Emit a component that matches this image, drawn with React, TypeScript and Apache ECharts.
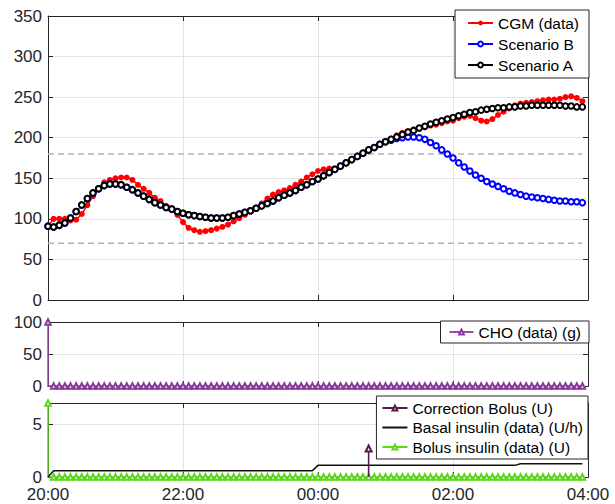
import React, { useEffect, useRef } from "react";
import * as echarts from "echarts";

// ---------- data ----------
const xTickLabels = ["20:00", "22:00", "00:00", "02:00", "04:00"];
const startClock = "20:00";
const stepMinutes = 5;

const cgm = [
  91, 100, 100, 100, 98, 99, 106, 117, 128, 138,
  145, 148, 150, 151, 151, 148, 142, 137, 132, 126,
  122, 116, 111, 105, 96, 89, 86, 84, 85, 86,
  88, 90, 93, 97, 101, 105, 109, 113, 119, 125,
  130, 133, 135, 138, 142, 146, 151, 155, 159, 161,
  162, 161, 165, 169, 172, 176, 180, 184, 188, 192,
  195, 199, 203, 206, 208, 210, 211, 213, 215, 216,
  218, 220, 221, 224, 226, 227, 224, 221, 220, 223,
  228, 232, 236, 240, 242, 243, 244, 245, 246, 247,
  247, 248, 250, 251, 249, 245,
];

const scenarioA = [
  91, 90, 92, 95, 101, 109, 117, 125, 132, 137,
  141, 143, 143, 142, 139, 136, 132, 128, 124, 120,
  117, 114, 112, 109, 107, 105, 104, 103, 102, 101,
  101, 101, 102, 104, 106, 108, 110, 113, 116, 119,
  122, 126, 129, 132, 135, 139, 142, 146, 149, 153,
  157, 161, 165, 169, 173, 177, 181, 185, 188, 192,
  195, 198, 201, 204, 207, 209, 212, 214, 217, 219,
  221, 223, 225, 227, 229, 231, 232, 234, 235, 236,
  237, 237, 238, 238, 239, 239, 240, 240, 240, 240,
  240, 240, 239, 239, 238, 238,
];

const scenarioB = [
  91, 90, 92, 95, 101, 109, 117, 125, 132, 137,
  141, 143, 143, 142, 139, 136, 132, 128, 124, 120,
  117, 114, 112, 109, 107, 105, 104, 103, 102, 101,
  101, 101, 102, 104, 106, 108, 110, 113, 116, 119,
  122, 126, 129, 132, 135, 139, 142, 146, 149, 153,
  157, 161, 165, 169, 173, 177, 181, 185, 188, 192,
  195, 197, 199, 200, 201, 201, 200, 198, 194, 190,
  185, 180, 175, 169, 164, 159, 154, 150, 146, 143,
  140, 137, 134, 132, 130, 128, 127, 126, 125, 124,
  123, 122, 122, 121, 121, 120,
];

const thresholds = [70, 180];

const cho = [
  100, 0, 0, 0, 0, 0, 0, 0, 0, 0,
  0, 0, 0, 0, 0, 0, 0, 0, 0, 0,
  0, 0, 0, 0, 0, 0, 0, 0, 0, 0,
  0, 0, 0, 0, 0, 0, 0, 0, 0, 0,
  0, 0, 0, 0, 0, 0, 0, 0, 0, 0,
  0, 0, 0, 0, 0, 0, 0, 0, 0, 0,
  0, 0, 0, 0, 0, 0, 0, 0, 0, 0,
  0, 0, 0, 0, 0, 0, 0, 0, 0, 0,
  0, 0, 0, 0, 0, 0, 0, 0, 0, 0,
  0, 0, 0, 0, 0, 0,
];

const bolus = [
  7, 0, 0, 0, 0, 0, 0, 0, 0, 0,
  0, 0, 0, 0, 0, 0, 0, 0, 0, 0,
  0, 0, 0, 0, 0, 0, 0, 0, 0, 0,
  0, 0, 0, 0, 0, 0, 0, 0, 0, 0,
  0, 0, 0, 0, 0, 0, 0, 0, 0, 0,
  0, 0, 0, 0, 0, 0, 0, 0, 0, 0,
  0, 0, 0, 0, 0, 0, 0, 0, 0, 0,
  0, 0, 0, 0, 0, 0, 0, 0, 0, 0,
  0, 0, 0, 0, 0, 0, 0, 0, 0, 0,
  0, 0, 0, 0, 0, 0,
];

const basal = [
  0, 0.6, 0.6, 0.6, 0.6, 0.6, 0.6, 0.6, 0.6, 0.6,
  0.6, 0.6, 0.6, 0.6, 0.6, 0.6, 0.6, 0.6, 0.6, 0.6,
  0.6, 0.6, 0.6, 0.6, 0.6, 0.6, 0.6, 0.6, 0.6, 0.6,
  0.6, 0.6, 0.6, 0.6, 0.6, 0.6, 0.6, 0.6, 0.6, 0.6,
  0.6, 0.6, 0.6, 0.6, 0.6, 0.6, 0.6, 0.6, 1.1, 1.1,
  1.1, 1.1, 1.1, 1.1, 1.1, 1.1, 1.1, 1.1, 1.1, 1.1,
  1.1, 1.1, 1.1, 1.1, 1.1, 1.1, 1.1, 1.1, 1.1, 1.1,
  1.1, 1.1, 1.1, 1.1, 1.1, 1.1, 1.1, 1.1, 1.1, 1.1,
  1.1, 1.1, 1.1, 1.1, 1.25, 1.25, 1.25, 1.25, 1.25, 1.25,
  1.25, 1.25, 1.25, 1.25, 1.25, 1.25,
];

const correctionTimes = ["00:45"];
const correctionValues = [2.7];

// ---------- helpers ----------
function toMinutes(hhmm: string): number {
  const [h, m] = hhmm.split(":").map(Number);
  const [h0, m0] = startClock.split(":").map(Number);
  let d = h * 60 + m - (h0 * 60 + m0);
  if (d < 0) d += 1440;
  return d;
}

const times = cgm.map((_, i) => i * stepMinutes);
const xMax = (xTickLabels.length - 1) * 120;

function pairs(vals: number[]) {
  return vals.map((v, i) => [times[i], v]);
}

function stemData(ts: number[], vals: number[], showZeroMarkers: boolean) {
  const out: any[] = [];
  vals.forEach((v, i) => {
    const t = ts[i];
    if (v !== 0) {
      out.push({ value: [t, 0], symbol: "none" });
      out.push({ value: [t, v] });
      out.push({ value: [t, 0], symbol: "none" });
    } else if (showZeroMarkers) {
      out.push({ value: [t, 0] });
    }
  });
  return out;
}

const FONT = "'Liberation Sans', Arial, Helvetica, sans-serif";
const axisColor = "#262626";
const gridColor = "#e4e4e4";

function xAxesFor(gridIndex: number, showLabels: boolean) {
  return [
    {
      type: "value",
      gridIndex,
      min: 0,
      max: xMax,
      interval: 120,
      position: "bottom",
      axisLine: { show: true, onZero: false, lineStyle: { color: axisColor, width: 1 } },
      axisTick: { show: true, inside: true, length: 5, lineStyle: { color: axisColor } },
      axisLabel: {
        show: showLabels,
        margin: 11,
        fontSize: 17,
        lineHeight: 13,
        fontFamily: FONT,
        color: axisColor,
        formatter: (v: number) => xTickLabels[Math.round(v / 120)] ?? "",
      },
      splitLine: { show: true, lineStyle: { color: gridColor, width: 1 } },
    },
    {
      type: "value",
      gridIndex,
      min: 0,
      max: xMax,
      interval: 120,
      position: "top",
      axisLine: { show: true, onZero: false, lineStyle: { color: axisColor, width: 1 } },
      axisTick: { show: true, inside: true, length: 5, lineStyle: { color: axisColor } },
      axisLabel: { show: false },
      splitLine: { show: false },
    },
  ];
}

function yAxesFor(gridIndex: number, max: number, interval: number) {
  return [
    {
      type: "value",
      gridIndex,
      min: 0,
      max,
      interval,
      position: "left",
      axisLine: { show: true, onZero: false, lineStyle: { color: axisColor, width: 1 } },
      axisTick: { show: true, inside: true, length: 5, lineStyle: { color: axisColor } },
      axisLabel: {
        show: true,
        margin: 6,
        fontSize: 17,
        lineHeight: 12,
        fontFamily: FONT,
        color: axisColor,
        showMaxLabel: max % interval === 0,
      },
      splitLine: { show: true, lineStyle: { color: gridColor, width: 1 } },
    },
    {
      type: "value",
      gridIndex,
      min: 0,
      max,
      interval,
      position: "right",
      axisLine: { show: true, onZero: false, lineStyle: { color: axisColor, width: 1 } },
      axisTick: { show: true, inside: true, length: 5, lineStyle: { color: axisColor } },
      axisLabel: { show: false },
      splitLine: { show: false },
    },
  ];
}

const legendBase = {
  orient: "vertical",
  selectedMode: false,
  backgroundColor: "#ffffff",
  borderColor: axisColor,
  borderWidth: 1,
  borderRadius: 0,
  itemHeight: 6,
  z: 10,
  textStyle: { fontSize: 15.5, fontFamily: FONT, color: "#000000" },
};

export default function App() {
  const ref = useRef<HTMLDivElement>(null);

  useEffect(() => {
    if (!ref.current) return;
    const chart = echarts.init(ref.current, undefined, { renderer: "svg" });
    const tEnd = times[times.length - 1];

    const option: any = {
      animation: false,
      backgroundColor: "#ffffff",
      textStyle: { fontFamily: FONT },
      grid: [
        { left: 48, top: 16, width: 540, height: 284 },
        { left: 48, top: 322, width: 540, height: 64 },
        { left: 48, top: 403, width: 540, height: 74 },
      ],
      xAxis: [...xAxesFor(0, false), ...xAxesFor(1, false), ...xAxesFor(2, true)],
      yAxis: [...yAxesFor(0, 350, 50), ...yAxesFor(1, 100, 50), ...yAxesFor(2, 7, 5)],
      legend: [
        {
          ...legendBase,
          data: ["CGM (data)", "Scenario B", "Scenario A"],
          right: 26,
          top: 10,
          padding: [5, 10, 5, 12],
          itemGap: 5,
          itemWidth: 25,
        },
        {
          ...legendBase,
          data: ["CHO (data) (g)"],
          right: 26,
          top: 321,
          padding: [3, 8, 3, 8],
          itemWidth: 24,
        },
        {
          ...legendBase,
          data: [
            "Correction Bolus (U)",
            { name: "Basal insulin (data) (U/h)", itemStyle: { opacity: 0 } },
            "Bolus insulin (data) (U)",
          ],
          right: 27,
          top: 396,
          padding: [4, 5, 4, 5],
          itemGap: 3.5,
          itemWidth: 25,
        },
      ],
      series: [
        ...thresholds.map((th) => ({
          name: "threshold " + th,
          type: "line",
          xAxisIndex: 0,
          yAxisIndex: 0,
          data: [
            [times[0], th],
            [tEnd, th],
          ],
          symbol: "none",
          silent: true,
          lineStyle: { color: "#b3b3b3", width: 1.6, type: [6, 4] },
          z: 1,
        })),
        {
          name: "CGM (data)",
          type: "line",
          xAxisIndex: 0,
          yAxisIndex: 0,
          data: pairs(cgm),
          symbol: "circle",
          symbolSize: 6,
          showAllSymbol: true,
          itemStyle: { color: "#ff0000" },
          lineStyle: { color: "#ff0000", width: 1.5 },
          z: 2,
        },
        {
          name: "Scenario B",
          type: "line",
          xAxisIndex: 0,
          yAxisIndex: 0,
          data: pairs(scenarioB),
          symbol: "emptyCircle",
          symbolSize: 5.5,
          showAllSymbol: true,
          itemStyle: { color: "#0000ff", borderWidth: 1.2 },
          lineStyle: { color: "#0000ff", width: 1 },
          z: 3,
        },
        {
          name: "Scenario A",
          type: "line",
          xAxisIndex: 0,
          yAxisIndex: 0,
          data: pairs(scenarioA),
          symbol: "emptyCircle",
          symbolSize: 5.5,
          showAllSymbol: true,
          itemStyle: { color: "#000000", borderWidth: 1.2 },
          lineStyle: { color: "#000000", width: 1 },
          z: 4,
        },
        {
          name: "CHO (data) (g)",
          type: "line",
          xAxisIndex: 2,
          yAxisIndex: 2,
          data: stemData(times, cho, true),
          symbol: "emptyTriangle",
          symbolSize: 5.5,
          showAllSymbol: true,
          itemStyle: { color: "#8b3a9b", borderWidth: 1 },
          lineStyle: { color: "#9a4caa", width: 1.5 },
          z: 3,
        },
        {
          name: "Bolus insulin (data) (U)",
          type: "line",
          xAxisIndex: 4,
          yAxisIndex: 4,
          data: stemData(times, bolus, true),
          symbol: "emptyTriangle",
          symbolSize: 5.5,
          showAllSymbol: true,
          itemStyle: { color: "#5cd81c", borderWidth: 1 },
          lineStyle: { color: "#5cd81c", width: 1.5 },
          z: 3,
        },
        {
          name: "Basal insulin (data) (U/h)",
          type: "line",
          xAxisIndex: 4,
          yAxisIndex: 4,
          data: pairs(basal),
          symbol: "none",
          itemStyle: { color: "#111111" },
          lineStyle: { color: "#111111", width: 1.5 },
          z: 4,
        },
        {
          name: "Correction Bolus (U)",
          type: "line",
          xAxisIndex: 4,
          yAxisIndex: 4,
          data: stemData(correctionTimes.map(toMinutes), correctionValues, false),
          symbol: "emptyTriangle",
          symbolSize: 6,
          showAllSymbol: true,
          itemStyle: { color: "#561a4f", borderWidth: 1.3 },
          lineStyle: { color: "#561a4f", width: 1.6 },
          z: 5,
        },
      ],
    };

    chart.setOption(option);
    return () => chart.dispose();
  }, []);

  return (
    <div
      ref={ref}
      style={{ position: "absolute", left: 0, top: 0, width: 615, height: 504 }}
    />
  );
}
